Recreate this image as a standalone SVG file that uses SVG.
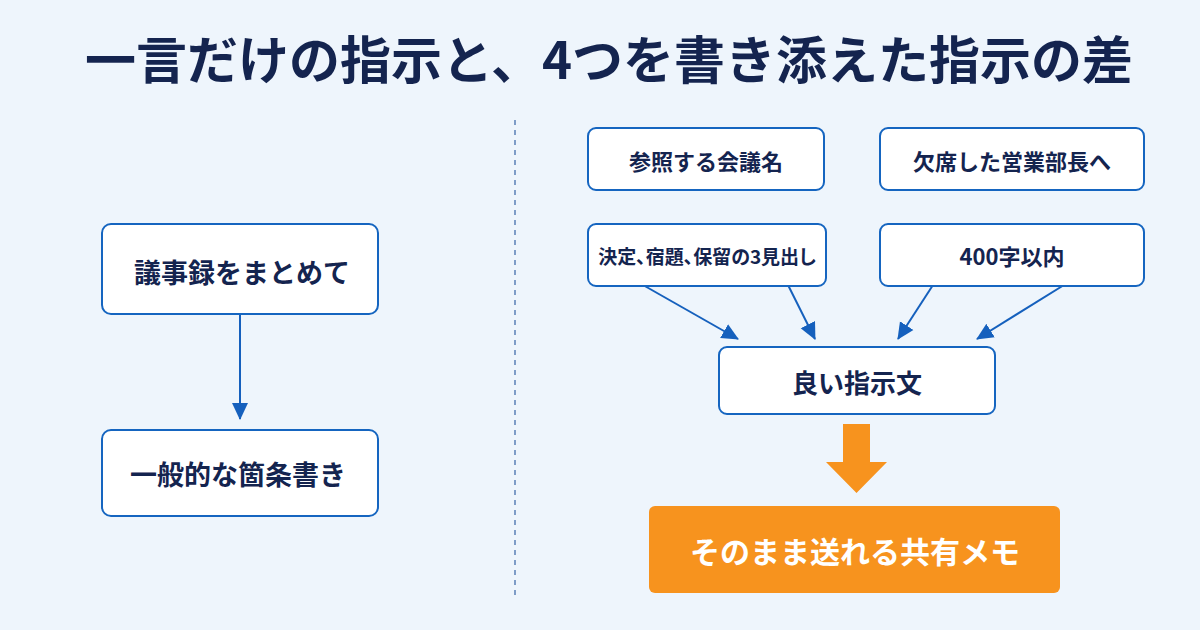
<svg xmlns="http://www.w3.org/2000/svg" width="1200" height="630" viewBox="0 0 1200 630">
<defs>
<style>
.t{font-family:"Noto Sans CJK JP","Noto Sans",sans-serif;font-weight:700;fill:#14244f;text-anchor:middle;dominant-baseline:central}
.box{fill:#ffffff;stroke:#1565c0;stroke-width:2}
.con{stroke:#1560bd;stroke-width:2;fill:none}
.p{font-feature-settings:"palt" 1}
</style>
<marker id="ah2" markerWidth="18" markerHeight="18" refX="16" refY="9" orient="auto" markerUnits="userSpaceOnUse" viewBox="0 0 18 18">
<path d="M0,1 L17,9 L0,17 z" fill="#1560bd"/>
</marker>
</defs>
<rect width="1200" height="630" fill="#eef5fc"/>
<text class="t" x="609" y="57" font-size="51" fill="#102a5c">一言だけの指示と、4つを書き添えた指示の差</text>
<line x1="515" y1="120" x2="515" y2="595" stroke="#5a7fb5" stroke-width="1.5" stroke-dasharray="5,5"/>
<g id="connectors">
<line class="con" x1="240" y1="314" x2="240" y2="419" marker-end="url(#ah2)"/>
<line class="con" x1="643" y1="285" x2="738" y2="339" marker-end="url(#ah2)"/>
<line class="con" x1="788" y1="285" x2="815" y2="339" marker-end="url(#ah2)"/>
<line class="con" x1="933" y1="285" x2="898" y2="339" marker-end="url(#ah2)"/>
<line class="con" x1="1064" y1="285" x2="977" y2="339" marker-end="url(#ah2)"/>
<path d="M843,424 H870 V462 H887 L856.5,493 L826,462 H843 Z" fill="#f7931e"/>
</g>
<g id="n1"><rect class="box" x="102" y="224" width="276" height="90" rx="9"/><text class="t" x="242" y="271" font-size="27">議事録をまとめて</text></g>
<g id="n2"><rect class="box" x="102" y="430" width="276" height="86" rx="9"/><text class="t" x="238" y="473" font-size="27">一般的な箇条書き</text></g>
<g id="n3"><rect class="box" x="588" y="128" width="236" height="62" rx="8"/><text class="t" x="706" y="160" font-size="22">参照する会議名</text></g>
<g id="n4"><rect class="box" x="880" y="128" width="264" height="62" rx="8"/><text class="t" x="1012" y="160" font-size="22">欠席した営業部長へ</text></g>
<g id="n5"><rect class="box" x="588" y="224" width="238" height="62" rx="8"/><text class="t p" x="707" y="255" font-size="19">決定、宿題、保留の3見出し</text></g>
<g id="n6"><rect class="box" x="880" y="224" width="264" height="62" rx="8"/><text class="t" x="1012" y="255" font-size="22">400字以内</text></g>
<g id="n7"><rect class="box" x="719" y="347" width="276" height="67" rx="8"/><text class="t" x="857" y="381" font-size="26">良い指示文</text></g>
<g id="n8"><rect x="649" y="506" width="411" height="87" rx="6" fill="#f7931e"/><text class="t" x="855" y="550" font-size="30" style="fill:#ffffff">そのまま送れる共有メモ</text></g>
</svg>
